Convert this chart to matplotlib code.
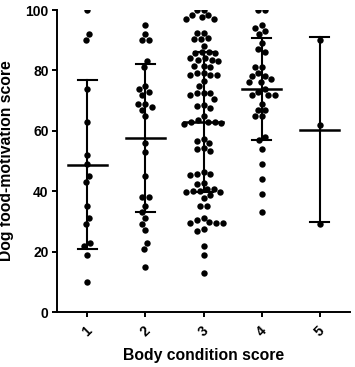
import numpy as np
import matplotlib
matplotlib.use("Agg")
import matplotlib.pyplot as plt

plt.rcParams['font.family'] = ['Liberation Sans', 'DejaVu Sans']

categories = ["1", "2", "3", "4", "5"]

bcs1 = [100, 92, 90, 74, 63, 52, 49, 45, 43, 35, 31, 29, 23, 22, 19, 10]
bcs2 = [95, 92, 90, 90, 83, 81, 75, 74, 73, 72, 69, 69, 68, 67, 65, 56, 53, 45,
        38, 38, 35, 33, 31, 29, 27, 23, 21, 15]
bcs3 = [100, 100, 98.3, 97, 97, 97.6, 98.3, 92.4, 92.4, 90.3, 90.6, 90.3, 88.2,
        86, 86, 85.6, 85.6, 84, 83.4, 83, 83.4, 84, 81.6, 81, 81.6,
        79.2, 78.4, 78.6, 78.4, 79.2, 76.5, 74.8, 72.4, 72, 72.4, 72.4, 70.5,
        68.4, 68.2, 67.6, 64.8, 63.6, 63, 62.6, 62.4, 63, 62.8,
        57.2, 56.6, 56, 54.4, 54, 53.3, 46.4, 45.6, 45.2, 45.6, 42.4, 42.6,
        40.6, 40.2, 39.8, 40.2, 39.6, 40.6, 38.6, 37.6, 35, 35,
        31.1, 30.4, 29.6, 29.6, 29.6, 29.8, 27.5, 26.8, 22, 19, 13]
bcs4 = [100, 100, 95, 94, 93, 92, 89, 87, 86, 81, 81, 79, 78, 78, 77, 76, 76,
        74, 73, 72, 72, 72, 69, 67, 67, 65, 65, 58, 57, 54, 49, 44, 39, 33]
bcs5 = [90, 62, 29]
groups = [bcs1, bcs2, bcs3, bcs4, bcs5]

means = [48.7, 57.6, 62.9, 73.8, 60.4]
sds = [28.0, 24.6, 23.3, 16.8, 30.5]

yticks = [0, 20, 40, 60, 80, 100]

W, H = 355, 367
fig = plt.figure(figsize=(W / 100, H / 100), dpi=100)
left, right, bottom, top = 57, 350, 312, 10
ax = fig.add_axes([left / W, 1 - bottom / H, (right - left) / W, (bottom - top) / H])
ax.set_xlim(0.48, 5.52)
ax.set_ylim(0, 100)

pxx = (right - left) / (5.52 - 0.48)
pxy = (bottom - top) / 100.0
dot = 6.4   # marker diameter in px
D = 6.9     # spacing used for packing, px


def swarm(vals):
    vals = np.asarray(vals, dtype=float)
    order = np.argsort(-vals, kind="stable")
    placed = []
    offs = np.zeros(len(vals))
    for i in order:
        y = vals[i] * pxy
        intervals = []
        for (xj, yj) in placed:
            dy = abs(y - yj)
            if dy < D:
                w = np.sqrt(D * D - dy * dy)
                intervals.append((xj - w, xj + w))
        cands = [0.0] + [a for a, b in intervals] + [b for a, b in intervals]
        cands = sorted(cands, key=lambda c: (abs(c), c))
        x = 0.0
        for c in cands:
            if all(not (a + 1e-6 < c < b - 1e-6) for a, b in intervals):
                x = c
                break
        placed.append((x, y))
        offs[i] = x
    # centre isolated colliding pairs symmetrically
    sv = vals[order] * pxy
    n = len(order)
    k = 0
    while k < n:
        j = k
        while j + 1 < n and sv[j] - sv[j + 1] < D:
            j += 1
        if j - k == 1:
            a, b = order[k], order[j]
            mid = (offs[a] + offs[b]) / 2
            offs[a] -= mid
            offs[b] -= mid
        k = j + 1
    return offs / pxx


for k, vals in enumerate(groups):
    xc = k + 1
    offs = swarm(vals)
    ax.scatter(xc + offs, vals, s=(dot * 0.72) ** 2, color="black", linewidths=0, zorder=2)
    m, s = means[k], sds[k]
    ax.plot([xc, xc], [m - s, m + s], color="black", lw=1.5, zorder=3)
    ax.plot([xc - 0.165, xc + 0.165], [m + s, m + s], color="black", lw=1.5, zorder=3)
    ax.plot([xc - 0.165, xc + 0.165], [m - s, m - s], color="black", lw=1.5, zorder=3)
    ax.plot([xc - 0.335, xc + 0.335], [m, m], color="black", lw=1.8, zorder=3)

for sp in ["top", "right"]:
    ax.spines[sp].set_visible(False)
for sp in ["left", "bottom"]:
    ax.spines[sp].set_linewidth(1.4)

ax.set_yticks(yticks)
ax.set_yticklabels([str(t) for t in yticks], fontsize=10, fontweight="bold")
ax.set_xticks(range(1, 6))
ax.set_xticklabels(categories, fontsize=10, fontweight="bold", rotation=45,
                   ha="center", va="top")
ax.tick_params(axis="both", length=3.5, width=1.4, pad=2.5)
ax.tick_params(axis="x", pad=5)

ax.set_ylabel("Dog food-motivation score", fontsize=11.3, fontweight="bold", labelpad=8)
ax.set_xlabel("Body condition score", fontsize=11.3, fontweight="bold", labelpad=6)

fig.savefig("out.png", dpi=100)
